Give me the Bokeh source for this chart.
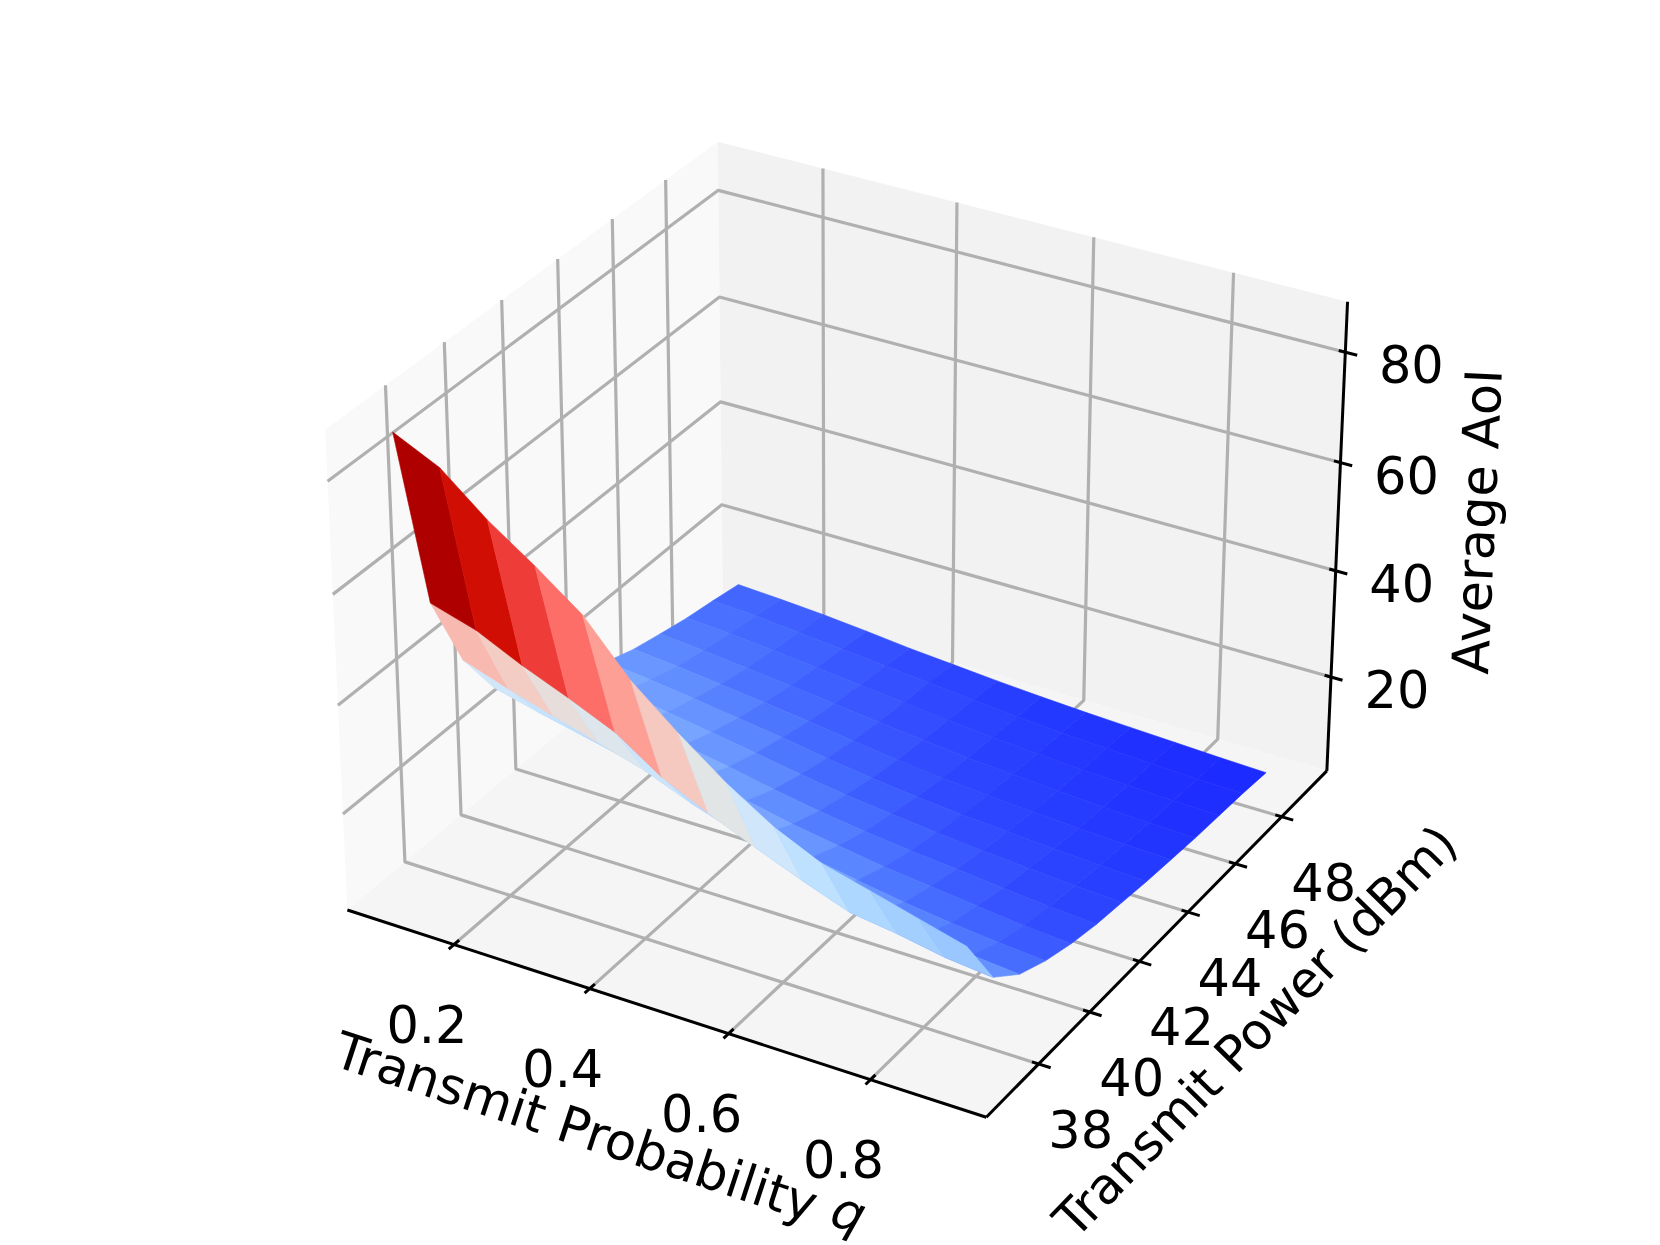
import numpy as np
from bokeh.plotting import figure
from bokeh.core.properties import value
from bokeh.embed import file_html
from bokeh.resources import INLINE

# ---- data -----------------------------------------------------------------
q_values = [0.1, 0.1667, 0.2333, 0.3, 0.3667, 0.4333, 0.5, 0.5667, 0.6333, 0.7, 0.7667, 0.8333, 0.9]
power_values = [36.85, 37.87, 38.9, 39.92, 40.94, 41.96, 42.99, 44.01, 45.03, 46.05, 47.08, 48.1, 49.12]
aoi_p37 = [87.3, 83.4, 76.6, 70.9, 64.7, 55.6, 48.7, 42.4, 37.1, 33.2, 31.0, 28.7, 26.4]
aoi_p38 = [52.9, 50.4, 46.5, 43.1, 39.4, 33.8, 29.8, 26.2, 22.8, 19.7, 18.5, 16.9, 16.0]
aoi_p39 = [38.2, 35.4, 32.8, 30.4, 27.9, 24.5, 21.7, 19.3, 17.0, 15.0, 13.5, 12.5, 11.7]
aoi_p40 = [28.8, 26.7, 24.8, 22.9, 21.1, 19.0, 16.9, 15.1, 13.5, 12.1, 11.0, 10.1, 9.4]
aoi_p41 = [24.2, 22.4, 20.8, 19.2, 17.6, 15.9, 14.1, 12.7, 11.4, 10.4, 9.4, 8.5, 7.8]
aoi_p42 = [21.1, 19.6, 18.2, 16.7, 15.2, 13.5, 12.0, 10.8, 9.8, 9.0, 8.1, 7.3, 6.7]
aoi_p43 = [18.5, 17.3, 16.0, 14.7, 13.3, 11.8, 10.5, 9.5, 8.6, 7.8, 7.1, 6.5, 6.0]
aoi_p44 = [16.3, 15.3, 14.2, 13.0, 11.8, 10.4, 9.2, 8.2, 7.4, 6.8, 6.2, 5.7, 5.3]
aoi_p45 = [14.4, 13.6, 12.6, 11.6, 10.5, 9.3, 8.2, 7.3, 6.6, 6.0, 5.5, 5.1, 4.8]
aoi_p46 = [13.1, 12.3, 11.4, 10.5, 9.5, 8.5, 7.6, 6.7, 6.1, 5.5, 5.0, 4.6, 4.3]
aoi_p47 = [11.9, 11.3, 10.5, 9.6, 8.7, 7.8, 6.9, 6.1, 5.5, 5.0, 4.6, 4.2, 4.0]
aoi_p48 = [11.0, 10.5, 9.7, 8.9, 8.1, 7.3, 6.5, 5.7, 5.1, 4.7, 4.3, 3.9, 3.7]
aoi_p49 = [10.0, 9.5, 8.9, 8.1, 7.2, 6.5, 5.8, 5.2, 4.7, 4.3, 3.9, 3.5, 3.2]
q_ticks = [0.2, 0.4, 0.6, 0.8]
power_ticks = [38, 40, 42, 44, 46, 48]
aoi_ticks = [20, 40, 60, 80]

Z = np.array([aoi_p37, aoi_p38, aoi_p39, aoi_p40, aoi_p41, aoi_p42, aoi_p43,
              aoi_p44, aoi_p45, aoi_p46, aoi_p47, aoi_p48, aoi_p49])

# colour scale: AoI -> colour
col_z = [3.5, 5.5, 7.5, 9.5, 11.5, 13.7, 16, 18, 21.5, 25.5, 28.2, 32.1, 36.6, 41.9, 48.3, 54.5, 59.2, 64.2, 68.5]
col_r = [28, 38, 50, 62, 75, 95, 115, 135, 152, 172, 190, 208, 225, 245, 254, 253, 238, 208, 175]
col_g = [42, 60, 75, 95, 115, 140, 160, 178, 197, 215, 225, 230, 230, 200, 160, 110, 62, 14, 0]
col_b = [255, 255, 255, 255, 255, 255, 255, 255, 255, 255, 255, 250, 230, 192, 150, 105, 58, 4, 0]

def colour(z):
    return "#%02x%02x%02x" % tuple(int(round(np.interp(z, col_z, c))) for c in (col_r, col_g, col_b))

# ---- 3D projection ----------------------------------------------------------
XL, YL, ZL = (0.04, 0.96), (36.0, 50.0), (2.0, 89.0)
BOX = np.array([4, 4, 3.0]) * 1.8294640721620434 / np.linalg.norm([4, 4, 3])
el, az = np.radians(30), np.radians(-60)
C = BOX / 2
EYE = C + 10 * np.array([np.cos(az) * np.cos(el), np.sin(az) * np.cos(el), np.sin(el)])
N = (EYE - C) / np.linalg.norm(EYE - C)
U = np.cross([0, 0, 1.0], N); U /= np.linalg.norm(U)
V = np.cross(N, U)
FX = (6406.345, 845.316)
FY = (-6392.309, 606.412)

def cube(a, b, c):
    P = np.array([a, b, c]) * BOX - EYE
    d = -(P @ N)
    return FX[0] * (P @ U) / d + FX[1], FY[0] * (P @ V) / d + FY[1], d

def nrm(q, pw, z):
    return (q - XL[0]) / (XL[1] - XL[0]), (pw - YL[0]) / (YL[1] - YL[0]), (z - ZL[0]) / (ZL[1] - ZL[0])

def data(q, pw, z):
    return cube(*nrm(q, pw, z))

def poly(pts):
    r = [cube(*t) for t in pts]
    return [t[0] for t in r], [t[1] for t in r]

p = figure(width=1660, height=1245, x_range=(0, 1660), y_range=(1245, 0),
           output_backend="svg", toolbar_location=None, min_border=0,
           background_fill_color="white", border_fill_color="white", outline_line_color=None)
p.axis.visible = False
p.grid.visible = False
p.xaxis.visible = False
p.yaxis.visible = False

# panes
panes = [[(0, 0, 0), (0, 1, 0), (0, 1, 1), (0, 0, 1)],
         [(0, 1, 0), (1, 1, 0), (1, 1, 1), (0, 1, 1)],
         [(0, 0, 0), (1, 0, 0), (1, 1, 0), (0, 1, 0)]]
pane_cols = ["#f9f9f9", "#f2f2f2", "#f5f5f5"]
pxs, pys = zip(*[poly(t) for t in panes])
p.patches(list(pxs), list(pys), fill_color=pane_cols, line_color=None)

# grid lines
gx, gy = [], []
for t in q_ticks:
    a = nrm(t, YL[0], ZL[0])[0]
    x_, y_ = poly([(a, 0, 0), (a, 1, 0), (a, 1, 1)]); gx.append(x_); gy.append(y_)
for t in power_ticks:
    b = nrm(XL[0], t, ZL[0])[1]
    x_, y_ = poly([(1, b, 0), (0, b, 0), (0, b, 1)]); gx.append(x_); gy.append(y_)
for t in aoi_ticks:
    c = nrm(XL[0], YL[0], t)[2]
    x_, y_ = poly([(0, 0, c), (0, 1, c), (1, 1, c)]); gx.append(x_); gy.append(y_)
p.multi_line(gx, gy, line_color="#b0b0b0", line_width=3.2)

# axis lines and ticks
ax, ay = [], []
for seg in ([(0, 0, 0), (1, 0, 0)], [(1, 0, 0), (1, 1, 0)], [(1, 1, 0), (1, 1, 1)]):
    x_, y_ = poly(seg); ax.append(x_); ay.append(y_)
for t in q_ticks:
    a = nrm(t, YL[0], ZL[0])[0]
    x_, y_ = poly([(a, -0.013, 0), (a, 0.013, 0)]); ax.append(x_); ay.append(y_)
for t in power_ticks:
    b = nrm(XL[0], t, ZL[0])[1]
    x_, y_ = poly([(0.99, b, 0), (1.018, b, 0)]); ax.append(x_); ay.append(y_)
for t in aoi_ticks:
    c = nrm(XL[0], YL[0], t)[2]
    x_, y_ = poly([(0.99, 1, c), (1.018, 1, c)]); ax.append(x_); ay.append(y_)
p.multi_line(ax, ay, line_color="black", line_width=3.0)

# surface, far faces first
faces = []
for j in range(len(power_values) - 1):
    for i in range(len(q_values) - 1):
        corners = [(i, j), (i + 1, j), (i + 1, j + 1), (i, j + 1)]
        r = [data(q_values[a], power_values[b], Z[b, a]) for a, b in corners]
        faces.append((np.mean([t[2] for t in r]), [t[0] for t in r], [t[1] for t in r],
                      colour(np.mean([Z[b, a] for a, b in corners]))))
faces.sort(key=lambda f: f[0], reverse=True)
cols = [f[3] for f in faces]
p.patches([f[1] for f in faces], [f[2] for f in faces], fill_color=cols, line_color=cols, line_width=0.6)

# tick labels
FONT = value("DejaVu Sans")
def label(x, y, txt, angle=0.0, align="center", style="normal", size="51px"):
    p.text([x], [y], text=[txt], angle=[angle], text_font=FONT, text_font_size=size,
           text_align=align, text_baseline="middle", text_color="black", text_font_style=style)

for t in q_ticks:
    x_, y_, _ = data(t, YL[0], ZL[0])
    label(x_ - 27, y_ + 79, "%.1f" % t)
for t in power_ticks:
    x_, y_, _ = data(XL[1], t, ZL[0])
    label(x_ + 42, y_ + 65, "%d" % t)
for t in aoi_ticks:
    x_, y_, _ = data(XL[1], YL[1], t)
    label(x_ + 66, y_ + 12, "%d" % t)

# axis labels
A1 = np.radians(-18.2)
label(336, 1048, "Transmit Probability", A1, "left")
label(848, 1212, "q", A1, "center", "italic")
label(1255, 1031, "Transmit Power (dBm)", np.radians(45.7), size="50px")
label(1477, 521, "Average AoI", np.radians(87.4))

open("out.html", "w").write(file_html(p, INLINE))
